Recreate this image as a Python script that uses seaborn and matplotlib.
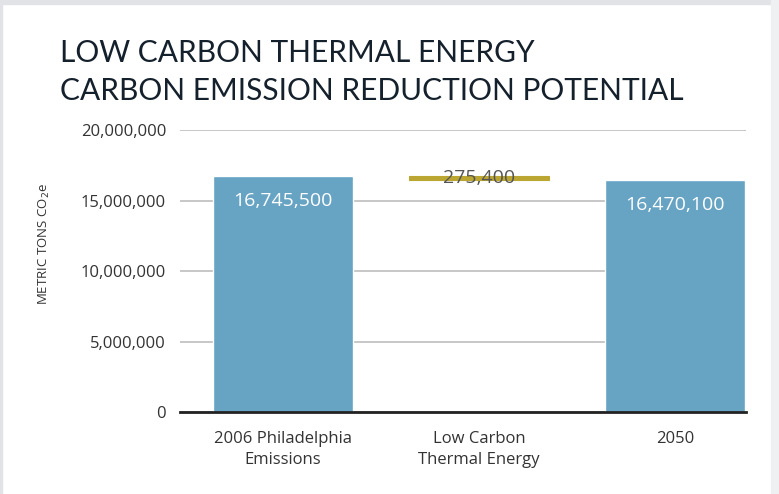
import numpy as np
import pandas as pd
import matplotlib
matplotlib.use("Agg")
import matplotlib.pyplot as plt
import seaborn as sns
from matplotlib.patches import Rectangle

categories = ["2006 Philadelphia\nEmissions", "Low Carbon\nThermal Energy", "2050"]
start_value = 16745500
reduction = 275400
end_value = 16470100
yticks = [0, 5000000, 10000000, 15000000, 20000000]

sns.set_theme(style="white")
plt.rcParams['font.family'] = ['Open Sans', 'DejaVu Sans']

fig = plt.figure(figsize=(7.79, 4.94), dpi=100)
fig.patch.set_facecolor("white")
# light border frame
fig.patches.append(Rectangle((0, 1 - 4/494), 1, 4/494, transform=fig.transFigure, color="#e1e3e6", zorder=0))
fig.patches.append(Rectangle((0, 0), 2/779, 1, transform=fig.transFigure, color="#e1e3e6", zorder=0))
fig.patches.append(Rectangle((1 - 8/779, 0), 8/779, 1, transform=fig.transFigure, color="#eef0f2", zorder=0))

ax = fig.add_axes([180/779, 1 - 412/494, 566/779, 282/494])

df = pd.DataFrame({"cat": categories, "val": [start_value, np.nan, end_value]})
sns.barplot(data=df, x="cat", y="val", order=categories, color="#67a3c3",
            saturation=1, width=0.714, ax=ax, zorder=3)
ax.bar(1, reduction, bottom=end_value, width=0.714, color="#bba632",
       edgecolor="#bba632", linewidth=0.8, zorder=3)

ax.set_ylim(0, 20000000)
ax.set_xlim(-0.526, 2.362)
ax.set_yticks(yticks)
ax.set_yticklabels([f"{v:,}" for v in yticks], fontsize=12, color="#333333")
ax.tick_params(axis="x", labelsize=12, colors="#333333", length=0, pad=14)
ax.tick_params(axis="y", length=0, pad=10)
for lbl in ax.get_xticklabels():
    lbl.set_linespacing(1.35)
ax.grid(axis="y", color="#bdbdbd", linewidth=1.2, zorder=0)
for s in ["top", "right", "left"]:
    ax.spines[s].set_visible(False)
ax.spines["bottom"].set_color("#222222")
ax.spines["bottom"].set_linewidth(2)
ax.spines["bottom"].set_zorder(4)
ax.set_xlabel("")
ax.set_ylabel("METRIC TONS CO$_2$e", fontsize=9.5, color="#333333")
ax.yaxis.set_label_coords(-0.226, 0.596)

ax.text(0, start_value - 1800000, f"{start_value:,}", ha="center", va="center",
        color="white", fontsize=14, zorder=5)
ax.text(2, end_value - 1800000, f"{end_value:,}", ha="center", va="center",
        color="white", fontsize=14, zorder=5)
ax.text(1, end_value + reduction / 2 + 20000, f"{reduction:,}", ha="center", va="center",
        color="#555555", fontsize=14, zorder=5)

fig.text(60/779, 1 - 53/494, "LOW CARBON THERMAL ENERGY", fontsize=21.5, color="#14202c",
         va="center", ha="left", family=["Lato", "DejaVu Sans"])
fig.text(60/779, 1 - 91/494, "CARBON EMISSION REDUCTION POTENTIAL", fontsize=21.5, color="#14202c",
         va="center", ha="left", family=["Lato", "DejaVu Sans"])

fig.savefig("out.png", dpi=100, facecolor="white")
